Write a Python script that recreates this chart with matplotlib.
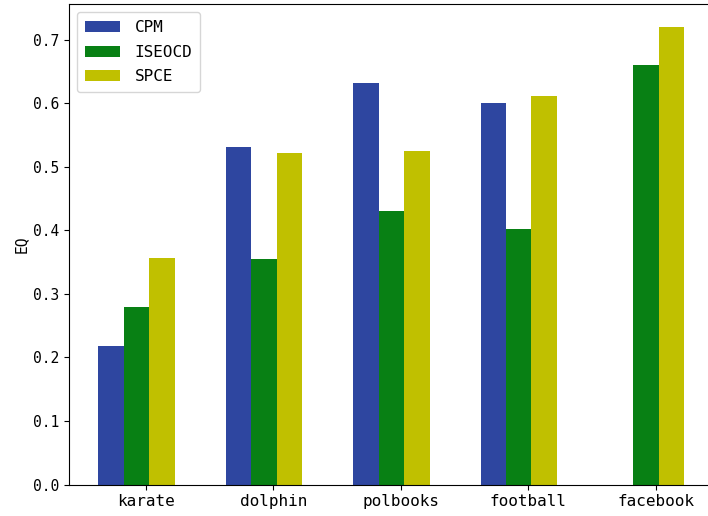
import matplotlib
matplotlib.use('Agg')
import matplotlib.pyplot as plt
import numpy as np

# EQ per network and method
networks = ['karate', 'dolphin', 'polbooks', 'football', 'facebook']
cpmEQ = [0.218, 0.531, 0.632, 0.601, 0.0]
iseocdEQ = [0.280, 0.355, 0.431, 0.402, 0.660]
spceEQ = [0.357, 0.521, 0.525, 0.611, 0.720]

# STYLE
plt.rcParams['font.family'] = ['DejaVu Sans Mono']
barWidth = 0.2
colCPM = '#2E46A0'
colISEOCD = '#088014'
colSPCE = '#C0C000'

x = np.arange(len(networks))

fig = plt.figure(figsize=(7.08, 5.16), dpi=100)
ax = fig.add_axes([0.0975, 0.061, 0.92, 0.931])

ax.bar(x - 0.275, cpmEQ, barWidth, color=colCPM, label='CPM')
ax.bar(x - 0.075, iseocdEQ, barWidth, color=colISEOCD, label='ISEOCD')
ax.bar(x + 0.125, spceEQ, barWidth, color=colSPCE, label='SPCE')

ax.set_xticks(x)
ax.set_xticklabels(networks, fontsize=11.5)
ax.set_yticks(np.arange(0, 0.75, 0.1))
ax.set_yticklabels(['%.1f' % v for v in np.arange(0, 0.75, 0.1)], fontsize=10.5)
ax.set_xlim(-0.605, 4.508)
ax.set_ylim(0, 0.756)
ax.set_ylabel('EQ', fontsize=10.5, labelpad=3)

ax.legend(loc='upper left', fontsize=11.5, handlelength=2.2,
          labelspacing=0.6, handletextpad=0.9, borderpad=0.5)

plt.savefig('out.png', dpi=100)
